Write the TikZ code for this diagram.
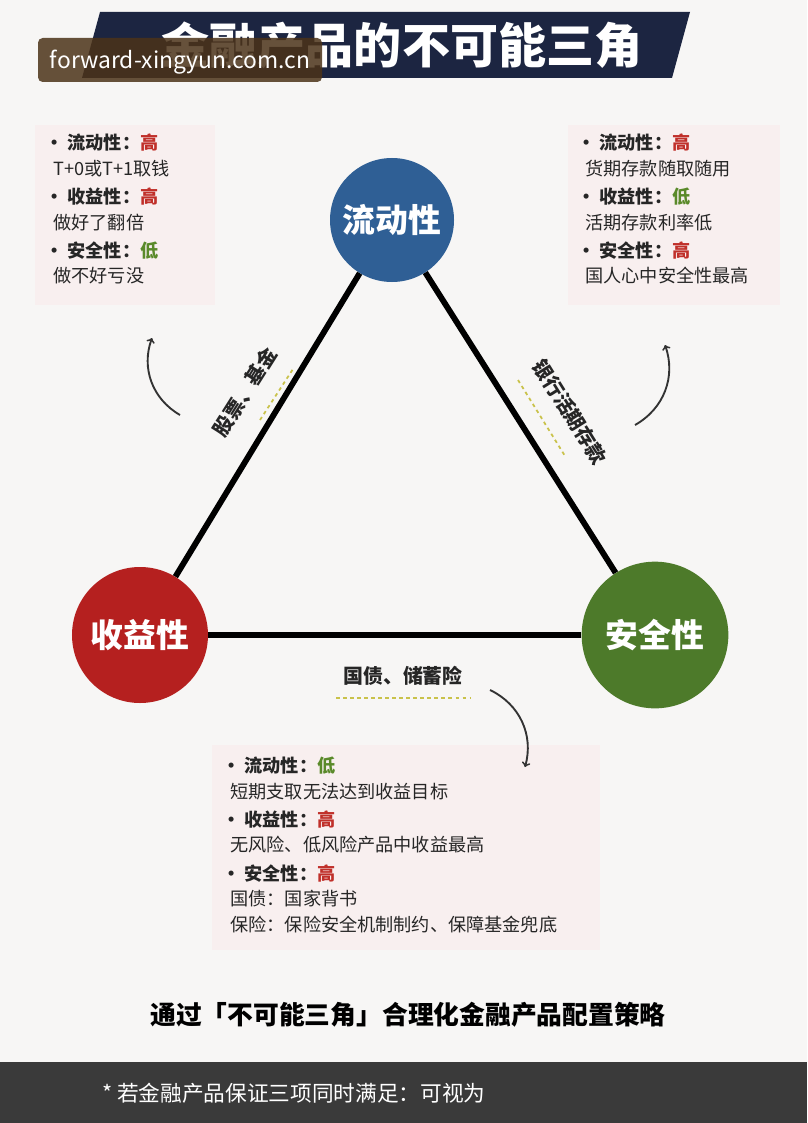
\documentclass[tikz,border=0pt]{standalone}
\usepackage{fontspec}
\setmainfont{Noto Sans CJK SC}
\usetikzlibrary{positioning}
\definecolor{navy}{HTML}{1C2541}
\definecolor{topblue}{HTML}{2F5F95}
\definecolor{leftred}{HTML}{B5201F}
\definecolor{rightgreen}{HTML}{4D7A2A}
\definecolor{hi}{HTML}{C0302A}
\definecolor{lo}{HTML}{5A8A2A}
\definecolor{dashy}{HTML}{C9C24A}
\definecolor{paper}{HTML}{F7F6F5}
\definecolor{pinkbg}{HTML}{F8EFEF}
\definecolor{barbg}{HTML}{3A3A3A}
\begin{document}
\begin{tikzpicture}[x=0.03cm, y=-0.03cm,
circle_node/.style={circle, text=white, font=\fontsize{28}{30}\selectfont\bfseries, inner sep=0pt},
item/.style={anchor=north west, align=left, font=\fontsize{15.5}{21.5}\selectfont, text=black!85, inner sep=0pt},
side_line/.style={line width=5pt, black},
edge_text/.style={font=\fontsize{17}{19}\selectfont\bfseries, text=black!85},
dash_line/.style={dashed, dashy, line width=1.5pt},
turn_arrow/.style={->, line width=1.6pt, black!80}
]
\fill[paper] (0,0) rectangle (807,1123);
\useasboundingbox (0,0) rectangle (807,1123);

% title
\fill[navy] (100,12) -- (690,12) -- (672,78) -- (82,78) -- cycle;
\node[text=white, font=\fontsize{41}{44}\selectfont\bfseries] (title) at (402,45) {金融产品的不可能三角};
\fill[black!60!brown, opacity=0.85, rounded corners=4pt] (38,38) rectangle (322,82);
\node[text=white, font=\fontsize{19.5}{22}\selectfont] (mark) at (180,62) {forward-xingyun.com.cn};

% shaded boxes
\fill[pinkbg] (35,125) rectangle (215,305);
\fill[pinkbg] (568,125) rectangle (780,305);
\fill[pinkbg] (212,745) rectangle (600,950);

% circles
\node[circle_node, fill=topblue, minimum size=3.72cm] (liquid) at (392,220) {流动性};
\node[circle_node, fill=leftred, minimum size=4.08cm] (profit) at (140,635) {收益性};
\node[circle_node, fill=rightgreen, minimum size=4.4cm] (safe) at (655,635) {安全性};

% triangle
\draw[side_line] (liquid) -- (profit);
\draw[side_line] (liquid) -- (safe);
\draw[side_line] (profit) -- (safe);

% edge labels
\node[edge_text, rotate=57.7] (stock) at (245,392) {股票、基金};
\draw[dash_line] (260,420) -- (293,369);
\node[edge_text, rotate=-58] (bank) at (570,412) {银行活期存款};
\draw[dash_line] (518,380) -- (565,456);
\node[edge_text] (bond) at (403,676) {国债、储蓄险};
\draw[dash_line] (336,698) -- (470,698);

% turn arrows
\draw[turn_arrow] (180,415) to[bend left=40] (152,338);
\draw[turn_arrow] (635,425) to[bend right=40] (665,345);
\draw[turn_arrow] (490,690) to[bend left=40] (525,767);

% left list
\node[item] (left_list) at (45,134) {%
\textbf{• 流动性：}\textcolor{hi}{\textbf{高}}\\ \ \ T+0或T+1取钱\\[3pt]
\textbf{• 收益性：}\textcolor{hi}{\textbf{高}}\\ \ \ 做好了翻倍\\[3pt]
\textbf{• 安全性：}\textcolor{lo}{\textbf{低}}\\ \ \ 做不好亏没};
% right list
\node[item] (right_list) at (577,134) {%
\textbf{• 流动性：}\textcolor{hi}{\textbf{高}}\\ \ \ 货期存款随取随用\\[3pt]
\textbf{• 收益性：}\textcolor{lo}{\textbf{低}}\\ \ \ 活期存款利率低\\[3pt]
\textbf{• 安全性：}\textcolor{hi}{\textbf{高}}\\ \ \ 国人心中安全性最高};
% bottom list
\node[item] (bottom_list) at (222,757) {%
\textbf{• 流动性：}\textcolor{lo}{\textbf{低}}\\ \ \ 短期支取无法达到收益目标\\[3pt]
\textbf{• 收益性：}\textcolor{hi}{\textbf{高}}\\ \ \ 无风险、低风险产品中收益最高\\[3pt]
\textbf{• 安全性：}\textcolor{hi}{\textbf{高}}\\ \ \ 国债：国家背书\\ \ \ 保险：保险安全机制制约、保障基金兜底};

% footer
\node[font=\fontsize{22}{25}\selectfont\bfseries] (strategy) at (408,1015) {通过「不可能三角」合理化金融产品配置策略};
\fill[barbg] (0,1062) rectangle (807,1123);
\node[anchor=west, text=white, font=\fontsize{18.5}{21}\selectfont] (note) at (98,1093) {* 若金融产品保证三项同时满足：可视为};
\end{tikzpicture}
\end{document}
